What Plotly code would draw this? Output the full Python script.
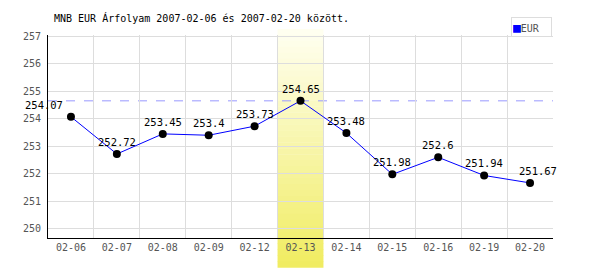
import plotly.graph_objects as go

dates = ["02-06", "02-07", "02-08", "02-09", "02-12", "02-13", "02-14", "02-15", "02-16", "02-19", "02-20"]
eur = [254.07, 252.72, 253.45, 253.4, 253.73, 254.65, 253.48, 251.98, 252.6, 251.94, 251.67]
y_ticks = [250, 251, 252, 253, 254, 255, 256, 257]
title = "MNB EUR Árfolyam 2007-02-06 és 2007-02-20 között."
series_name = "EUR"

FONT = "DejaVu Sans Mono"
max_v = max(eur)
max_i = eur.index(max_v)

fig = go.Figure()

# gradient highlight band for maximum
n = 40
y_top, y_bot = 1.03, -0.145
c_top = (255, 255, 242)
c_bot = (240, 236, 96)
shapes = []
for k in range(n):
    t = (k + 0.5) / n
    col = tuple(int(round(c_top[j] + (c_bot[j] - c_top[j]) * t)) for j in range(3))
    shapes.append(dict(
        type="rect", xref="x", yref="paper",
        x0=max_i - 0.5, x1=max_i + 0.5,
        y0=y_top + (y_bot - y_top) * (k + 1) / n - 0.002,
        y1=y_top + (y_bot - y_top) * k / n,
        fillcolor="rgb(%d,%d,%d)" % col, line=dict(width=0), layer="below"))
shapes.append(dict(type="line", xref="paper", yref="y", x0=0, x1=1, y0=max_v, y1=max_v,
                   line=dict(color="#9999ff", width=1, dash="dash"), layer="below"))

fig.add_trace(go.Scatter(
    x=dates, y=eur, mode="lines+markers",
    line=dict(color="#0000ff", width=1),
    marker=dict(color="black", size=8),
    showlegend=False, cliponaxis=False))

# value labels
label_shift = [0] * len(eur)
label_shift[0] = -27
label_shift[-1] = 8
annotations = []
for d, v, s in zip(dates, eur, label_shift):
    annotations.append(dict(x=d, y=v, text=f"{v:g}", showarrow=False, xshift=s, yshift=12,
                            font=dict(family=FONT, size=10.5, color="black")))

annotations += [
    dict(text=title, xref="paper", yref="paper", x=0.008, y=1.084,
         xanchor="left", yanchor="middle", showarrow=False,
         font=dict(family=FONT, size=10, color="black")),
    dict(text="<span style='color:#0000ff;font-size:13px'>■</span>" + series_name,
         xref="paper", yref="paper", x=0.998, y=1.039,
         xanchor="right", yanchor="middle", showarrow=False, width=37, height=16,
         align="left",
         bordercolor="#dddddd", borderwidth=1, borderpad=1, bgcolor="white",
         font=dict(family=FONT, size=10, color="#555")),
]

fig.update_layout(
    width=600, height=270,
    margin=dict(l=48, r=47, t=35, b=32),
    paper_bgcolor="white", plot_bgcolor="rgba(0,0,0,0)",
    showlegend=False,
    shapes=shapes,
    annotations=annotations,
    xaxis=dict(type="category", tickson="boundaries", showgrid=True, gridcolor="#dddddd",
               ticks="", showline=True, linecolor="black", linewidth=1,
               tickfont=dict(family=FONT, size=10, color="#555"), range=[-0.5, len(dates) - 0.5],
               fixedrange=True),
    yaxis=dict(range=[249.67, 257.04], tickvals=y_ticks, showgrid=True, gridcolor="#dddddd",
               ticks="", showline=True, linecolor="black", linewidth=1, zeroline=False,
               tickfont=dict(family=FONT, size=10, color="#555"), ticklabelstandoff=4),
)

fig.write_html("out.html")
